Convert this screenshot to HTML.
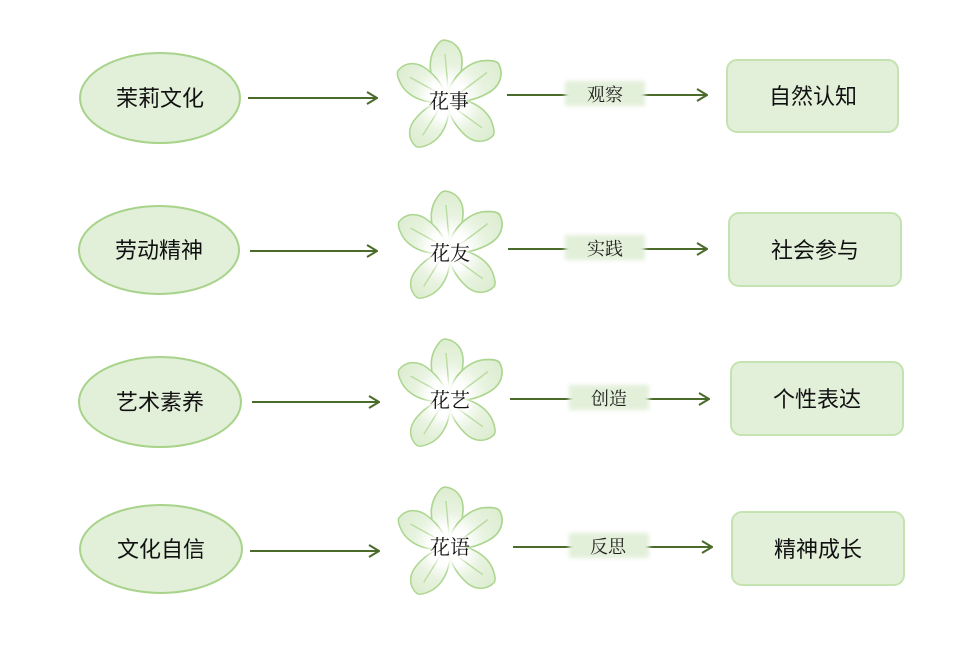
<!DOCTYPE html>
<html><head><meta charset="utf-8">
<style>
html,body{margin:0;padding:0;background:#fff;}
svg{display:block;}
.sans{font-family:"Liberation Sans","Noto Sans CJK SC",sans-serif;}
.serif{font-family:"Liberation Serif","Noto Serif CJK SC",serif;}
</style></head>
<body>
<svg width="960" height="660" viewBox="0 0 960 660" xmlns="http://www.w3.org/2000/svg">
<defs>
  <radialGradient id="pg" gradientUnits="userSpaceOnUse" cx="0" cy="0" r="62">
    <stop offset="0" stop-color="#ffffff"/>
    <stop offset="0.3" stop-color="#ffffff"/>
    <stop offset="0.58" stop-color="#e8f3e0"/>
    <stop offset="1" stop-color="#dbecce"/>
  </radialGradient>
  <radialGradient id="cg" gradientUnits="userSpaceOnUse" cx="0" cy="0" r="25">
    <stop offset="0" stop-color="#ffffff" stop-opacity="1"/>
    <stop offset="0.55" stop-color="#ffffff" stop-opacity="0.9"/>
    <stop offset="1" stop-color="#ffffff" stop-opacity="0"/>
  </radialGradient>
  <filter id="blur" x="-20%" y="-40%" width="140%" height="180%"><feGaussianBlur stdDeviation="2"/></filter>
  <marker id="ah" viewBox="0 0 12 14" refX="11" refY="7" markerWidth="12" markerHeight="14" markerUnits="userSpaceOnUse" orient="auto">
    <path d="M1,1 L11,7 L1,13" fill="none" stroke="#4a6b2a" stroke-width="2"/>
  </marker>
  <g id="petal">
    <path d="M0,0 C-16,-12 -20,-34 -14,-48 C-10,-56 -6,-60 -3,-60 C8,-59 16,-50 15,-36 C14,-20 8,-8 0,0 Z" fill="url(#pg)" stroke="#acd68f" stroke-width="1.6"/>
    <path d="M1,-12 L-2,-46" stroke="#b9dca0" stroke-width="1.4" fill="none"/>
  </g>
  <g id="flower">
    <use href="#petal" transform="rotate(0) scale(1.0)"/>
    <use href="#petal" transform="rotate(58) scale(1.05)"/>
    <use href="#petal" transform="rotate(131) scale(0.97)"/>
    <use href="#petal" transform="rotate(-143) scale(0.93)"/>
    <use href="#petal" transform="rotate(-56) scale(0.95)"/>
    <circle cx="0" cy="0" r="25" fill="url(#cg)"/>
  </g>
</defs>

<!-- Row 1 -->
<ellipse cx="160" cy="98" rx="80" ry="45" fill="#e2efd9" stroke="#a8d38a" stroke-width="2"/>
<text x="160" y="106" text-anchor="middle" font-size="22" class="sans" fill="#111">茉莉文化</text>
<line x1="248" y1="98" x2="377" y2="98" stroke="#4a6b2a" stroke-width="2" marker-end="url(#ah)"/>
<use href="#flower" transform="translate(447,100)"/>
<text x="449" y="108" text-anchor="middle" font-size="20" class="serif" fill="#111">花事</text>
<line x1="507" y1="95" x2="707" y2="95" stroke="#4a6b2a" stroke-width="2" marker-end="url(#ah)"/>
<rect x="565" y="81" width="80" height="25" fill="#e2efd9" filter="url(#blur)"/>
<text x="605" y="101" text-anchor="middle" font-size="18" class="serif" fill="#222">观察</text>
<rect x="727" y="60" width="171" height="72" rx="10" fill="#e2efd9" stroke="#c5e3b1" stroke-width="2"/>
<text x="813" y="104" text-anchor="middle" font-size="22" class="sans" fill="#111">自然认知</text>

<!-- Row 2 -->
<ellipse cx="159" cy="250" rx="80" ry="44" fill="#e2efd9" stroke="#a8d38a" stroke-width="2"/>
<text x="159" y="258" text-anchor="middle" font-size="22" class="sans" fill="#111">劳动精神</text>
<line x1="250" y1="251" x2="377" y2="251" stroke="#4a6b2a" stroke-width="2" marker-end="url(#ah)"/>
<use href="#flower" transform="translate(448,251)"/>
<text x="450" y="260" text-anchor="middle" font-size="20" class="serif" fill="#111">花友</text>
<line x1="508" y1="249" x2="707" y2="249" stroke="#4a6b2a" stroke-width="2" marker-end="url(#ah)"/>
<rect x="565" y="235" width="80" height="25" fill="#e2efd9" filter="url(#blur)"/>
<text x="605" y="255" text-anchor="middle" font-size="18" class="serif" fill="#222">实践</text>
<rect x="729" y="213" width="172" height="73" rx="10" fill="#e2efd9" stroke="#c5e3b1" stroke-width="2"/>
<text x="815" y="258" text-anchor="middle" font-size="22" class="sans" fill="#111">社会参与</text>

<!-- Row 3 -->
<ellipse cx="160" cy="402" rx="81" ry="45" fill="#e2efd9" stroke="#a8d38a" stroke-width="2"/>
<text x="160" y="410" text-anchor="middle" font-size="22" class="sans" fill="#111">艺术素养</text>
<line x1="252" y1="402" x2="379" y2="402" stroke="#4a6b2a" stroke-width="2" marker-end="url(#ah)"/>
<use href="#flower" transform="translate(448,399)"/>
<text x="450" y="407" text-anchor="middle" font-size="20" class="serif" fill="#111">花艺</text>
<line x1="510" y1="399" x2="709" y2="399" stroke="#4a6b2a" stroke-width="2" marker-end="url(#ah)"/>
<rect x="569" y="385" width="80" height="25" fill="#e2efd9" filter="url(#blur)"/>
<text x="609" y="405" text-anchor="middle" font-size="18" class="serif" fill="#222">创造</text>
<rect x="731" y="362" width="172" height="73" rx="10" fill="#e2efd9" stroke="#c5e3b1" stroke-width="2"/>
<text x="817" y="407" text-anchor="middle" font-size="22" class="sans" fill="#111">个性表达</text>

<!-- Row 4 -->
<ellipse cx="161" cy="549" rx="81" ry="44" fill="#e2efd9" stroke="#a8d38a" stroke-width="2"/>
<text x="161" y="557" text-anchor="middle" font-size="22" class="sans" fill="#111">文化自信</text>
<line x1="250" y1="551" x2="379" y2="551" stroke="#4a6b2a" stroke-width="2" marker-end="url(#ah)"/>
<use href="#flower" transform="translate(448,547)"/>
<text x="450" y="554" text-anchor="middle" font-size="20" class="serif" fill="#111">花语</text>
<line x1="513" y1="547" x2="712" y2="547" stroke="#4a6b2a" stroke-width="2" marker-end="url(#ah)"/>
<rect x="569" y="533" width="80" height="25" fill="#e2efd9" filter="url(#blur)"/>
<text x="608" y="553" text-anchor="middle" font-size="18" class="serif" fill="#222">反思</text>
<rect x="732" y="512" width="172" height="73" rx="10" fill="#e2efd9" stroke="#c5e3b1" stroke-width="2"/>
<text x="818" y="557" text-anchor="middle" font-size="22" class="sans" fill="#111">精神成长</text>
</svg>
</body></html>
